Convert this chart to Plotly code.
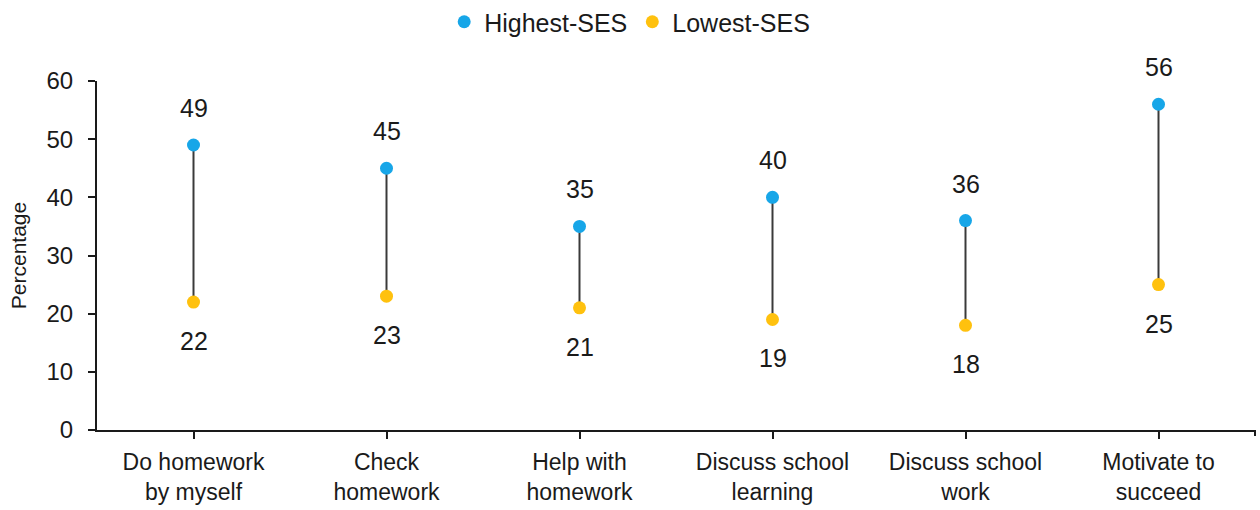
import plotly.graph_objects as go

categories = [
    "Do homework<br>by myself",
    "Check<br>homework",
    "Help with<br>homework",
    "Discuss school<br>learning",
    "Discuss school<br>work",
    "Motivate to<br>succeed",
]
highest_ses = [49, 45, 35, 40, 36, 56]
lowest_ses = [22, 23, 21, 19, 18, 25]

BLUE = "#17A6E8"
YELLOW = "#FFC10E"
INK = "#1a1a1a"
FONT = "Liberation Sans, Arial, sans-serif"

fig = go.Figure()

# connector lines between the two groups for each category
line_x, line_y = [], []
for c, lo, hi in zip(categories, lowest_ses, highest_ses):
    line_x += [c, c, None]
    line_y += [lo, hi, None]
fig.add_trace(go.Scatter(
    x=line_x, y=line_y, mode="lines",
    line=dict(color="#3A3A3A", width=2),
    showlegend=False, hoverinfo="skip",
))

fig.add_trace(go.Scatter(
    x=categories, y=highest_ses, name="Highest-SES",
    mode="markers", marker=dict(color=BLUE, size=13), cliponaxis=False,
))
fig.add_trace(go.Scatter(
    x=categories, y=lowest_ses, name="Lowest-SES",
    mode="markers", marker=dict(color=YELLOW, size=13), cliponaxis=False,
))

# value labels above the high points and below the low points
annotations = []
for c, v in zip(categories, highest_ses):
    annotations.append(dict(x=c, y=v, text=str(v), showarrow=False,
                            yshift=37, font=dict(size=25, color=INK)))
for c, v in zip(categories, lowest_ses):
    annotations.append(dict(x=c, y=v, text=str(v), showarrow=False,
                            yshift=-39, font=dict(size=25, color=INK)))

fig.update_layout(
    width=1260, height=510,
    margin=dict(l=97, r=5, t=81, b=78),
    plot_bgcolor="white", paper_bgcolor="white",
    font=dict(family=FONT, color=INK, size=22),
    annotations=annotations,
    shapes=[dict(type="line", xref="paper", yref="paper",
                 x0=1, x1=1, y0=0, y1=-6 / 351,
                 line=dict(color=INK, width=2))],
    legend=dict(
        orientation="h", x=0.46, xanchor="center",
        y=1 - 22 / 510, yanchor="middle", yref="container",
        font=dict(size=25), itemwidth=30,
    ),
    xaxis=dict(
        type="category", showgrid=False,
        showline=True, linecolor=INK, linewidth=2,
        ticks="outside", ticklen=7, tickcolor=INK, tickwidth=2,
        tickfont=dict(size=23), ticklabelstandoff=3,
        range=[-0.5, 5.5],
    ),
    yaxis=dict(
        range=[0, 60], dtick=10, showgrid=False, zeroline=False,
        showline=True, linecolor=INK, linewidth=2,
        ticks="outside", ticklen=7, tickcolor=INK, tickwidth=2,
        tickfont=dict(size=24), ticklabelstandoff=10,
        title=dict(text="Percentage", font=dict(size=21), standoff=14),
    ),
)

fig.write_html("out.html")
